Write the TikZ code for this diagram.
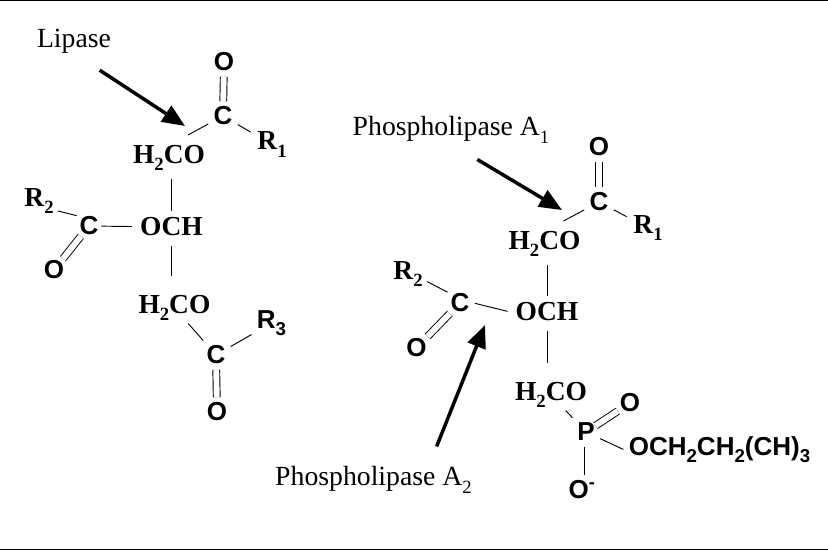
\documentclass[tikz,border=0pt]{standalone}
\usepackage{fontspec}
\setmainfont{Liberation Serif}
\setsansfont{Liberation Sans}
\usetikzlibrary{arrows.meta}
\newcommand{\subs}[1]{\raisebox{-0.28em}{\fontsize{14}{14}\selectfont #1}}
\tikzstyle{enzyme} = [inner sep=0pt, font=\fontsize{20.8}{24}\selectfont]
\tikzstyle{grp} = [inner sep=4pt, font=\fontsize{20.6}{24}\selectfont\bfseries]
\tikzstyle{atom} = [inner sep=3pt, font=\fontsize{19.5}{24}\selectfont\sffamily\bfseries]
\tikzstyle{bond} = [line width=0.7pt, shorten <=1pt, shorten >=1pt]
\tikzstyle{dbl} = [line width=0.7pt, double, double distance=4.4pt, shorten <=1pt, shorten >=1pt]
\tikzstyle{cut} = [line width=2.6pt, -{Triangle[length=17pt,width=14pt]}]

\begin{document}
\begin{tikzpicture}[x=0.75pt,y=-0.75pt]
    \useasboundingbox (0,0) rectangle (828,551);
    \coordinate (tl) at (0,0.7);
    \coordinate (tr) at (828,0.7);
    \coordinate (bl) at (0,549.6);
    \coordinate (br) at (828,549.6);
    \draw [line width=1pt] (tl) -- (tr);
    \draw [line width=1pt] (bl) -- (br);
    % triglyceride
    \node (lipase) [enzyme] at (74,41) {Lipase};
    \node (o1) [atom] at (224,62) {O};
    \node (c1) [atom] at (223,116) {C};
    \node (r1) [grp] at (272,144.5) {R\subs{1}};
    \node (h1) [grp] at (169,158) {H\subs{2}CO};
    \node (och1) [grp] at (171.5,227) {OCH};
    \node (c2) [atom] at (89,226) {C};
    \node (r2) [grp] at (39,201) {R\subs{2}};
    \node (o2) [atom] at (54,270) {O};
    \node (h3) [grp] at (174.5,308) {H\subs{2}CO};
    \node (c3) [atom] at (216,355) {C};
    \node (r3) [atom] at (271.5,323) {R\subs{3}};
    \node (o3) [atom] at (217,412) {O};
    \coordinate (lipasetip) at (185,126);
    \draw [cut, shorten <=23pt] (lipase.south) -- (lipasetip);
    \draw [dbl] (o1) -- (c1);
    \draw [bond, shorten >=7pt] (c1) -- (h1.60);
    \draw [bond] (c1) -- (r1);
    \draw [bond, shorten <=2pt] (h1.south -| och1.north) -- (och1.north);
    \draw [bond, shorten <=3pt, shorten >=10pt] (och1.south) -- (och1.south |- h3.north);
    \draw [bond, shorten <=-1pt, shorten >=-1pt] (r2.-27) -- (c2.142);
    \draw [bond, shorten <=-1pt, shorten >=2pt] (c2) -- (och1);
    \draw [dbl, shorten <=-3pt, shorten >=-2pt] (c2) -- (o2);
    \draw [bond, shorten <=-3pt] (h3) -- (c3);
    \draw [bond] (c3) -- (r3);
    \draw [dbl] (c3) -- (o3);
    % phospholipid
    \node (pa1) [enzyme] at (451,130) {Phospholipase A\subs{1}};
    \node (o4) [atom] at (599,147) {O};
    \node (c4) [atom] at (599,202) {C};
    \node (r4) [grp] at (648,228) {R\subs{1}};
    \node (h4) [grp] at (544.5,244) {H\subs{2}CO};
    \node (och2) [grp] at (547,312) {OCH};
    \node (c5) [atom] at (460,303) {C};
    \node (r5) [grp] at (408,274) {R\subs{2}};
    \node (o5) [atom] at (416.5,348) {O};
    \node (h6) [grp] at (551,395) {H\subs{2}CO};
    \node (p6) [atom] at (586,432) {P};
    \node (o6) [atom] at (630,403) {O};
    \node (tail) [atom] at (719.5,450) {OCH\subs{2}CH\subs{2}(CH)\subs{3}};
    \node (o7) [atom] at (582,490) {O\textsuperscript{-}};
    \node (pa2) [enzyme] at (373.5,480) {Phospholipase A\subs{2}};
    \coordinate (pa1tip) at (562,210);
    \coordinate (pa2tip) at (485,325);
    \draw [cut, shorten <=23pt] (pa1.south) -- (pa1tip);
    \draw [cut, shorten <=16pt] (pa2.14) -- (pa2tip);
    \draw [dbl] (o4) -- (c4);
    \draw [bond, shorten >=7pt] (c4) -- (h4.60);
    \draw [bond] (c4) -- (r4);
    \draw [bond, shorten <=2pt] (h4.south -| och2.north) -- (och2.north);
    \draw [bond, shorten <=3pt, shorten >=10pt] (och2.south) -- (och2.south |- h6.north);
    \draw [bond, shorten <=-1pt, shorten >=-1pt] (r5.-22) -- (c5.140);
    \draw [bond, shorten >=2pt] (c5.east) -- (och2.west);
    \draw [dbl, shorten <=-3pt, shorten >=-2pt] (c5) -- (o5);
    \draw [bond, shorten <=-3pt] (h6) -- (p6);
    \draw [dbl, shorten <=-3pt, shorten >=-2pt] (p6) -- (o6);
    \draw [bond] (p6) -- (tail.west);
    \draw [bond] ([xshift=-1.5pt]p6.south) -- ([xshift=-1.5pt]p6.south |- o7.north);
\end{tikzpicture}
\end{document}
